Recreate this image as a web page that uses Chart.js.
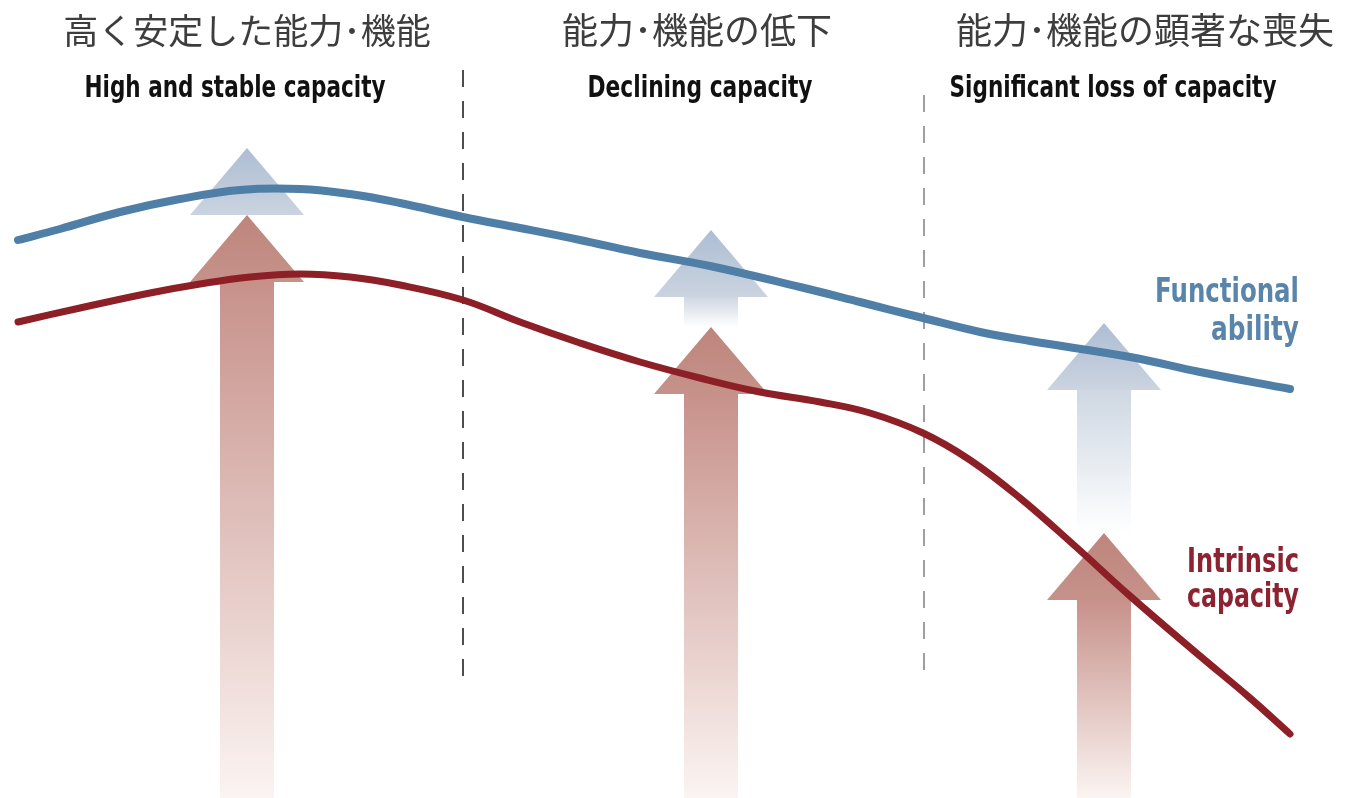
<!DOCTYPE html>
<html>
<head>
<meta charset="utf-8">
<script src="https://cdn.jsdelivr.net/npm/chart.js@4"></script>
<style>
  html, body { margin:0; padding:0; background:#fff; }
  #capacityChart { display:block; }
</style>
</head>
<body>
<canvas id="capacityChart" width="1346" height="798"></canvas>
<script>
// curve samples (x = life course position, y = level)
const abilityX = [18, 60, 120, 180, 240, 300, 350, 400, 463, 520, 580, 640, 710, 800, 860, 923, 980, 1030, 1130, 1200, 1290];
const abilityY = [558, 569, 586, 599, 608, 609, 604, 595, 581, 570, 558, 545, 532, 511, 496, 480, 466, 457, 441, 426, 409];
const capacityX = [18, 80, 150, 200, 250, 300, 350, 400, 463, 520, 580, 640, 700, 760, 820, 870, 923, 970, 1020, 1075, 1130, 1200, 1250, 1290];
const capacityY = [476, 490, 505, 514, 521, 524, 521, 513, 498, 476, 455, 436, 420, 406, 396, 385, 365, 338, 300, 252, 202, 142, 100, 64];

// arrows in each stage
const arrowX = [247, 711, 1104];
const abilityArrowTip = [650, 568, 475];
const capacityArrowTip = [583, 471, 265];

// stage dividers and labels
const stageDividers = [463, 924];
const stageTitlesJa = ['高く安定した能力･機能', '能力･機能の低下', '能力･機能の顕著な喪失'];
const stageTitlesEn = ['High and stable capacity', 'Declining capacity', 'Significant loss of capacity'];
const seriesLabels = [['Functional', 'ability'], ['Intrinsic', 'capacity']];

const blue = '#4f7fa7';
const red = '#8d1f27';

function toPoints(xs, ys){
    let pts = new Array();
    for(let i=0; i<xs.length; i++) pts.push({x:xs[i], y:ys[i]});
    return pts;
}

const backdrop = {
    id:'backdrop',
    beforeDatasetsDraw(chart){
        const ctx = chart.ctx, sx = chart.scales.x, sy = chart.scales.y;
        const bottom = chart.chartArea.bottom;
        ctx.save();
        // dashed stage dividers
        const dashTop = [728, 703];
        const dashColor = ['#222', '#888'];
        stageDividers.forEach((d, i) => {
            ctx.beginPath();
            ctx.setLineDash([17, 14]);
            ctx.lineWidth = 1.6;
            ctx.strokeStyle = dashColor[i];
            ctx.moveTo(sx.getPixelForValue(d), sy.getPixelForValue(dashTop[i]));
            ctx.lineTo(sx.getPixelForValue(d), sy.getPixelForValue(118));
            ctx.stroke();
        });
        ctx.setLineDash([]);

        const headH = 67, headHalf = 57, shaftHalf = 27;
        function arrow(cx, tip, end, headCols, shaftCols){
            // shaft
            let g = ctx.createLinearGradient(0, tip + headH, 0, end);
            g.addColorStop(0, shaftCols[0]);
            g.addColorStop(1, shaftCols[1]);
            ctx.fillStyle = g;
            ctx.fillRect(cx - shaftHalf, tip + headH - 1, shaftHalf * 2, end - tip - headH + 1);
            // head
            g = ctx.createLinearGradient(0, tip, 0, tip + headH);
            g.addColorStop(0, headCols[0]);
            g.addColorStop(1, headCols[1]);
            ctx.fillStyle = g;
            ctx.beginPath();
            ctx.moveTo(cx, tip);
            ctx.lineTo(cx + headHalf, tip + headH);
            ctx.lineTo(cx - headHalf, tip + headH);
            ctx.closePath();
            ctx.fill();
        }
        arrowX.forEach((a, i) => {
            const cx = sx.getPixelForValue(a);
            const bTip = sy.getPixelForValue(abilityArrowTip[i]);
            const rTip = sy.getPixelForValue(capacityArrowTip[i]);
            arrow(cx, bTip, rTip, ['#adbdd3', '#cbd4e0'], ['#ced7e2', '#ffffff']);
            arrow(cx, rTip, bottom, ['#be857c', '#c5928a'], ['#c7918a', '#fbf4f2']);
        });
        ctx.restore();
    },
    afterDraw(chart){
        const ctx = chart.ctx;
        ctx.save();
        ctx.textAlign = 'center';
        ctx.textBaseline = 'alphabetic';
        const jaX = [247, 697, 1145];
        const jaSize = [35, 36, 36];
        ctx.fillStyle = '#3d3d3d';
        stageTitlesJa.forEach((t, i) => {
            ctx.font = '400 ' + jaSize[i] + 'px "Noto Sans CJK JP"';
            ctx.fillText(t, jaX[i], 44);
        });
        const enX = [235, 700, 1113], enW = [301, 225, 327];
        ctx.fillStyle = '#111';
        ctx.font = 'bold 31px "DejaVu Sans"';
        stageTitlesEn.forEach((t, i) => ctx.fillText(t, enX[i], 97, enW[i]));

        ctx.textAlign = 'right';
        ctx.font = 'bold 34px "DejaVu Sans"';
        ctx.fillStyle = '#5a85ab';
        ctx.fillText(seriesLabels[0][0], 1299, 302, 144);
        ctx.fillText(seriesLabels[0][1], 1299, 340, 88);
        ctx.fillStyle = '#8b2331';
        ctx.fillText(seriesLabels[1][0], 1299, 572, 112);
        ctx.fillText(seriesLabels[1][1], 1299, 607, 112);
        ctx.restore();
    }
};

new Chart(document.getElementById('capacityChart'), {
    type:'line',
    data:{
        datasets:[{
            label:'Functional ability',
            data:toPoints(abilityX, abilityY),
            borderColor:blue,
            borderWidth:8,
            tension:0.4,
            pointRadius:0,
            borderCapStyle:'round',
            clip:false
        },{
            label:'Intrinsic capacity',
            data:toPoints(capacityX, capacityY),
            borderColor:red,
            borderWidth:7,
            tension:0.4,
            pointRadius:0,
            borderCapStyle:'round',
            clip:false
        }]
    },
    options:{
        responsive:false,
        animation:false,
        layout:{ padding:0 },
        plugins:{ legend:{display:false}, tooltip:{enabled:false} },
        scales:{
            x:{ type:'linear', min:0, max:1346, display:false },
            y:{ type:'linear', min:0, max:798, display:false }
        }
    },
    plugins:[backdrop]
});
</script>
</body>
</html>
